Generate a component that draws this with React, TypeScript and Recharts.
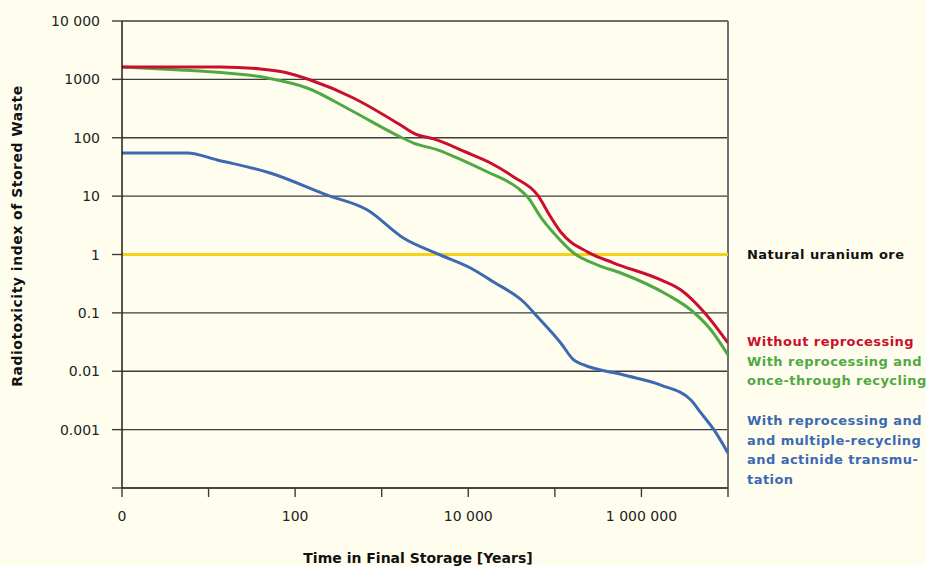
import { CartesianGrid, Line, LineChart, ReferenceLine, XAxis, YAxis } from 'recharts';

// time in years (log axis, "0" stands for 1 year) vs. radiotoxicity index
const xTicks = [1, 10, 100, 1e3, 1e4, 1e5, 1e6, 1e7];
const xTickLabels = ['0', '', '100', '', '10 000', '', '1 000 000', ''];
const yTicks = [1e-4, 1e-3, 0.01, 0.1, 1, 10, 100, 1000, 10000];
const yTickLabels = ['', '0.001', '0.01', '0.1', '1', '10', '100', '1000', '10 000'];

const naturalUraniumOre = [
  { t: 1, v: 1 },
  { t: 1e7, v: 1 },
];

const withoutReprocessing = [
  { t: 1, v: 1630 },
  { t: 13.6, v: 1630 },
  { t: 39.5, v: 1510 },
  { t: 73, v: 1336 },
  { t: 150, v: 975 },
  { t: 471, v: 480 },
  { t: 1648, v: 165 },
  { t: 2330, v: 120 },
  { t: 4410, v: 91 },
  { t: 9310, v: 57 },
  { t: 18100, v: 36.9 },
  { t: 33400, v: 21.3 },
  { t: 63300, v: 10.4 },
  { t: 89600, v: 4.38 },
  { t: 117000, v: 2.43 },
  { t: 240000, v: 1.1 },
  { t: 480000, v: 0.714 },
  { t: 1680000, v: 0.366 },
  { t: 2860000, v: 0.246 },
  { t: 5270000, v: 0.1035 },
  { t: 1e7, v: 0.0305 },
];

const onceThroughRecycling = [
  { t: 1, v: 1630 },
  { t: 4.7, v: 1450 },
  { t: 8, v: 1390 },
  { t: 47.6, v: 1057 },
  { t: 138, v: 711 },
  { t: 434, v: 299 },
  { t: 1648, v: 103 },
  { t: 2330, v: 81 },
  { t: 4410, v: 62 },
  { t: 6240, v: 50.6 },
  { t: 16700, v: 25.9 },
  { t: 37200, v: 13.8 },
  { t: 48500, v: 9.66 },
  { t: 68600, v: 4.38 },
  { t: 97000, v: 2.33 },
  { t: 165000, v: 1.06 },
  { t: 313000, v: 0.66 },
  { t: 578000, v: 0.482 },
  { t: 2020000, v: 0.202 },
  { t: 3730000, v: 0.112 },
  { t: 6360000, v: 0.051 },
  { t: 1e7, v: 0.019 },
];

const multipleRecycling = [
  { t: 1, v: 54.8 },
  { t: 5.65, v: 54.8 },
  { t: 12.6, v: 41.6 },
  { t: 51.5, v: 24.9 },
  { t: 235, v: 10.4 },
  { t: 684, v: 5.78 },
  { t: 1780, v: 1.92 },
  { t: 4780, v: 0.98 },
  { t: 10600, v: 0.587 },
  { t: 19600, v: 0.338 },
  { t: 43700, v: 0.1535 },
  { t: 63300, v: 0.085 },
  { t: 117000, v: 0.0305 },
  { t: 165000, v: 0.0156 },
  { t: 216000, v: 0.0128 },
  { t: 627000, v: 0.00863 },
  { t: 1680000, v: 0.0058 },
  { t: 3730000, v: 0.00321 },
  { t: 4870000, v: 0.00193 },
  { t: 6890000, v: 0.00099 },
  { t: 1e7, v: 0.000398 },
];

const RED = '#c8102e';
const GREEN = '#50a843';
const BLUE = '#3b69b3';
const YELLOW = '#f2d31a';
const BG = '#fffeee';
const GRID = '#3c3c3c';

const boldText = {
  fontFamily: '"DejaVu Sans", sans-serif',
  fontWeight: 700,
  fontSize: 13,
  letterSpacing: 0.45,
  lineHeight: '19.5px',
  position: 'absolute' as const,
  left: 747,
  whiteSpace: 'nowrap' as const,
};

function XTick(props: any) {
  const { x, y, index } = props;
  const label = xTickLabels[index];
  if (!label) return null;
  return (
    <text
      x={x}
      y={y}
      dy="0.71em"
      textAnchor="middle"
      fontFamily='"DejaVu Sans", sans-serif'
      fontSize={14}
      fill="#222"
    >
      {label}
    </text>
  );
}

function YTick(props: any) {
  const { x, y, index } = props;
  return (
    <text
      x={x}
      y={y}
      dy="0.36em"
      textAnchor="end"
      fontFamily='"DejaVu Sans", sans-serif'
      fontSize={14}
      fill="#222"
    >
      {yTickLabels[index]}
    </text>
  );
}

export default function App() {
  return (
    <div style={{ position: 'absolute', left: 0, top: 0, width: 926, height: 566, background: BG, overflow: 'hidden' }}>
      <LineChart width={926} height={566} margin={{ top: 21, right: 198, bottom: 0, left: 0 }}>
        <CartesianGrid vertical={false} stroke={GRID} strokeWidth={1.4} />
        <XAxis
          dataKey="t"
          type="number"
          scale="log"
          domain={[1, 1e7]}
          ticks={xTicks}
          interval={0}
          allowDataOverflow
          height={78}
          tickSize={9}
          tickMargin={14}
          tick={<XTick />}
          axisLine={{ stroke: GRID, strokeWidth: 1.4 }}
          tickLine={{ stroke: GRID, strokeWidth: 1.4 }}
        />
        <YAxis
          type="number"
          scale="log"
          domain={[1e-4, 1e4]}
          ticks={yTicks}
          interval={0}
          allowDataOverflow
          width={122}
          tickSize={10}
          tickMargin={12}
          tick={<YTick />}
          axisLine={{ stroke: '#111', strokeWidth: 1.4 }}
          tickLine={{ stroke: GRID, strokeWidth: 1.4 }}
        />
        <ReferenceLine x={1e7} stroke="#707070" strokeWidth={2} />
        <Line
          data={naturalUraniumOre}
          dataKey="v"
          type="linear"
          stroke={YELLOW}
          strokeWidth={3}
          dot={false}
          isAnimationActive={false}
        />
        <Line
          data={multipleRecycling}
          dataKey="v"
          type="monotone"
          stroke={BLUE}
          strokeWidth={3}
          dot={false}
          isAnimationActive={false}
        />
        <Line
          data={onceThroughRecycling}
          dataKey="v"
          type="monotone"
          stroke={GREEN}
          strokeWidth={3}
          dot={false}
          isAnimationActive={false}
        />
        <Line
          data={withoutReprocessing}
          dataKey="v"
          type="monotone"
          stroke={RED}
          strokeWidth={3}
          dot={false}
          isAnimationActive={false}
        />
      </LineChart>

      <div
        style={{
          position: 'absolute',
          left: 17,
          top: 236,
          transform: 'translate(-50%, -50%) rotate(-90deg)',
          fontFamily: '"DejaVu Sans", sans-serif',
          fontWeight: 700,
          fontSize: 14,
          letterSpacing: 0.5,
          whiteSpace: 'nowrap',
          color: '#111',
        }}
      >
        Radiotoxicity index of Stored Waste
      </div>
      <div
        style={{
          position: 'absolute',
          left: 418,
          top: 558,
          transform: 'translate(-50%, -50%)',
          fontFamily: '"DejaVu Sans", sans-serif',
          fontWeight: 700,
          fontSize: 14,
          whiteSpace: 'nowrap',
          color: '#111',
        }}
      >
        Time in Final Storage [Years]
      </div>

      <div style={{ ...boldText, top: 245, color: '#111' }}>Natural uranium ore</div>
      <div style={{ ...boldText, top: 332, color: RED }}>Without reprocessing</div>
      <div style={{ ...boldText, top: 351.5, color: GREEN }}>
        With reprocessing and
        <br />
        once-through recycling
      </div>
      <div style={{ ...boldText, top: 411, color: BLUE }}>
        With reprocessing and
        <br />
        and multiple-recycling
        <br />
        and actinide transmu-
        <br />
        tation
      </div>
    </div>
  );
}
